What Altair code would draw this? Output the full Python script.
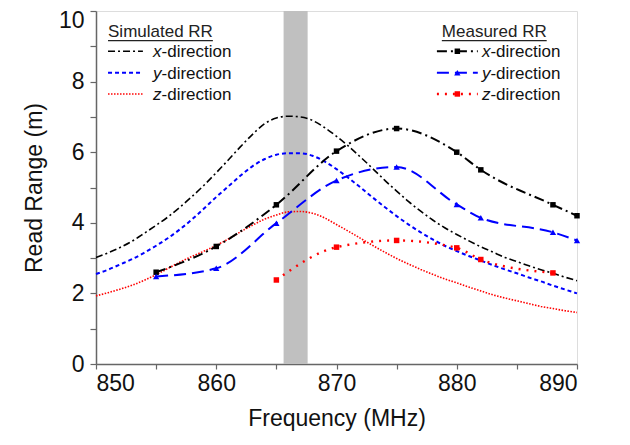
import altair as alt
import pandas as pd

# ---------------- data ----------------
FREQ_SIM = list(range(850, 891))
SIM_X = [3.02, 3.15, 3.30, 3.48, 3.70, 3.93, 4.17, 4.45, 4.75, 5.07,
         5.42, 5.78, 6.15, 6.50, 6.80, 6.97, 7.02, 7.00, 6.90, 6.70,
         6.45, 6.17, 5.86, 5.54, 5.21, 4.90, 4.60, 4.33, 4.08, 3.86,
         3.67, 3.49, 3.32, 3.17, 3.02, 2.90, 2.78, 2.67, 2.57, 2.46, 2.36]
SIM_Y = [2.55, 2.67, 2.82, 2.97, 3.15, 3.35, 3.57, 3.82, 4.10, 4.41,
         4.73, 5.03, 5.33, 5.60, 5.80, 5.93, 5.97, 5.97, 5.90, 5.74,
         5.52, 5.27, 5.00, 4.72, 4.45, 4.19, 3.95, 3.73, 3.53, 3.35,
         3.20, 3.06, 2.93, 2.80, 2.68, 2.57, 2.45, 2.34, 2.22, 2.11, 2.00]
SIM_Z = [1.93, 2.02, 2.12, 2.23, 2.37, 2.53, 2.71, 2.89, 3.05, 3.20,
         3.36, 3.54, 3.74, 3.93, 4.10, 4.22, 4.31, 4.32, 4.27, 4.14,
         3.95, 3.76, 3.56, 3.36, 3.17, 2.99, 2.83, 2.68, 2.54, 2.41,
         2.30, 2.18, 2.07, 1.96, 1.87, 1.79, 1.71, 1.63, 1.57, 1.51, 1.46]

FREQ_MEAS_XY = [855, 860, 865, 870, 875, 880, 882, 888, 890]
MEAS_X = [2.60, 3.33, 4.51, 6.03, 6.67, 6.00, 5.50, 4.51, 4.20]
MEAS_Y = [2.48, 2.71, 3.99, 5.20, 5.58, 4.52, 4.14, 3.73, 3.50]
FREQ_MEAS_Z = [865, 870, 875, 880, 882, 888]
MEAS_Z = [2.38, 3.31, 3.50, 3.29, 2.96, 2.58]

BAND = [865.6, 867.6]

LEG_SIM_TITLE = "Simulated RR"
LEG_MEAS_TITLE = "Measured RR"
LEG_LETTERS = ["x", "y", "z"]
LEG_SUFFIX = "-direction"

# ---------------- styles ----------------
FONT = "Liberation Sans"
BLACK, BLUE, RED = "#000000", "#0000ff", "#ff0000"
STY = {
    "sim_x": dict(color=BLACK, strokeDash=[7, 3, 2, 3], strokeWidth=1.6),
    "sim_y": dict(color=BLUE, strokeDash=[4, 3], strokeWidth=2.0),
    "sim_z": dict(color=RED, strokeDash=[1.5, 1.5], strokeWidth=1.6),
    "meas_x": dict(color=BLACK, strokeDash=[10, 4, 2, 4], strokeWidth=2.0),
    "meas_y": dict(color=BLUE, strokeDash=[12, 6], strokeWidth=2.0),
    "meas_z": dict(color=RED, strokeDash=[2, 6], strokeWidth=2.4),
}
MARK = {"meas_x": ("square", BLACK, 30), "meas_y": ("triangle-up", BLUE, 40),
        "meas_z": ("square", RED, 30)}

# ---------------- scales / axes ----------------
xs = alt.Scale(domain=[850, 890], nice=False, zero=False)
ys = alt.Scale(domain=[0, 10], nice=False)
x_axis = alt.Axis(
    title="Frequency (MHz)", values=list(range(850, 891, 5)),
    labelExpr="datum.value % 10 == 0 ? datum.label : ''",
    grid=False, tickSize=5, labelPadding=3, titlePadding=12,
    labelFont=FONT, labelFontSize=23, labelColor="#111",
    titleFont=FONT, titleFontSize=23, titleFontWeight="normal", titleColor="#111",
    domainColor="#666", domainWidth=1.5, tickColor="#666", tickWidth=1.2,
)
y_axis = alt.Axis(
    title="Read Range (m)", values=list(range(0, 11)),
    labelExpr="datum.value % 2 == 0 ? datum.label : ''",
    grid=False, tickSize=6, labelPadding=6, titlePadding=12,
    labelOffset={"condition": {"test": "datum.value == 10", "value": 9}, "value": 0},
    labelFont=FONT, labelFontSize=23, labelColor="#111",
    titleFont=FONT, titleFontSize=23, titleFontWeight="normal", titleColor="#111",
    domainColor="#666", domainWidth=1.5, tickColor="#666", tickWidth=1.2,
)


def X(field="f"):
    return alt.X(f"{field}:Q", scale=xs, axis=x_axis)


def Y(field="v"):
    return alt.Y(f"{field}:Q", scale=ys, axis=y_axis)


layers = []

# gray band
band_df = pd.DataFrame({"f": [BAND[0]], "f2": [BAND[1]], "v": [0], "v2": [10]})
layers.append(alt.Chart(band_df).mark_rect(color="#c0c0c0").encode(
    x=X("f"), x2="f2", y=Y("v"), y2="v2"))

# simulated curves
for key, vals in [("sim_x", SIM_X), ("sim_y", SIM_Y), ("sim_z", SIM_Z)]:
    df = pd.DataFrame({"f": FREQ_SIM, "v": vals})
    layers.append(alt.Chart(df).mark_line(interpolate="monotone", **STY[key]).encode(
        x=X(), y=Y()))

# measured curves with markers
for key, fr, vals in [("meas_x", FREQ_MEAS_XY, MEAS_X), ("meas_y", FREQ_MEAS_XY, MEAS_Y),
                      ("meas_z", FREQ_MEAS_Z, MEAS_Z)]:
    df = pd.DataFrame({"f": fr, "v": vals})
    shape, col, size = MARK[key]
    layers.append(alt.Chart(df).mark_line(interpolate="monotone", **STY[key]).encode(
        x=X(), y=Y()))
    layers.append(alt.Chart(df).mark_point(shape=shape, filled=True, color=col,
                                           size=size, opacity=1).encode(x=X(), y=Y()))

# ---------------- legends (positioned in data space) ----------------
TITLE_V, UL_V = 9.25, 9.16
ROW_TEXT_V = [8.70, 8.08, 7.49]
ROW_LINE_V = [8.86, 8.25, 7.65]
LEGS = [
    dict(title=LEG_SIM_TITLE, tf=851.0, ul=(851.0, 859.72), lf=(851.0, 853.9),
         letter_f=854.74, keys=["sim_x", "sim_y", "sim_z"], marker=None),
    dict(title=LEG_MEAS_TITLE, tf=878.76, ul=(878.76, 887.48), lf=(878.35, 881.75),
         letter_f=882.09, keys=["meas_x", "meas_y", "meas_z"], marker=880.05),
]
LETTER_W = 0.71
for lg in LEGS:
    tdf = pd.DataFrame({"f": [lg["tf"]], "v": [TITLE_V], "t": [lg["title"]]})
    layers.append(alt.Chart(tdf).mark_text(align="left", baseline="alphabetic", font=FONT,
                                           fontSize=17, color="#222").encode(
        x=X(), y=Y(), text="t:N"))
    udf = pd.DataFrame({"f": [lg["ul"][0]], "f2": [lg["ul"][1]], "v": [UL_V]})
    layers.append(alt.Chart(udf).mark_rule(color="#222", strokeWidth=1.2).encode(
        x=X(), x2="f2", y=Y()))
    for i, key in enumerate(lg["keys"]):
        ldf = pd.DataFrame({"f": list(lg["lf"]), "v": [ROW_LINE_V[i]] * 2})
        layers.append(alt.Chart(ldf).mark_line(**STY[key]).encode(x=X(), y=Y()))
        if lg["marker"] is not None:
            shape, col, size = MARK[key]
            mdf = pd.DataFrame({"f": [lg["marker"]], "v": [ROW_LINE_V[i]]})
            layers.append(alt.Chart(mdf).mark_point(shape=shape, filled=True, color=col,
                                                    size=size, opacity=1).encode(x=X(), y=Y()))
        a = pd.DataFrame({"f": [lg["letter_f"]], "v": [ROW_TEXT_V[i]], "t": [LEG_LETTERS[i]]})
        layers.append(alt.Chart(a).mark_text(align="left", baseline="alphabetic", font=FONT,
                                             fontSize=17, fontStyle="italic", color="#111").encode(
            x=X(), y=Y(), text="t:N"))
        b = pd.DataFrame({"f": [lg["letter_f"] + LETTER_W], "v": [ROW_TEXT_V[i]], "t": [LEG_SUFFIX]})
        layers.append(alt.Chart(b).mark_text(align="left", baseline="alphabetic", font=FONT,
                                             fontSize=17, color="#111").encode(
            x=X(), y=Y(), text="t:N"))

chart = alt.layer(*layers).properties(
    width=481, height=353,
    autosize=alt.AutoSizeParams(type="none"),
    padding={"left": 88, "top": 3, "right": 40, "bottom": 70},
).configure_view(stroke="#777", strokeWidth=1.5).configure(background="white")

chart.save("out.html", embed_options={"renderer": "svg", "actions": False})
